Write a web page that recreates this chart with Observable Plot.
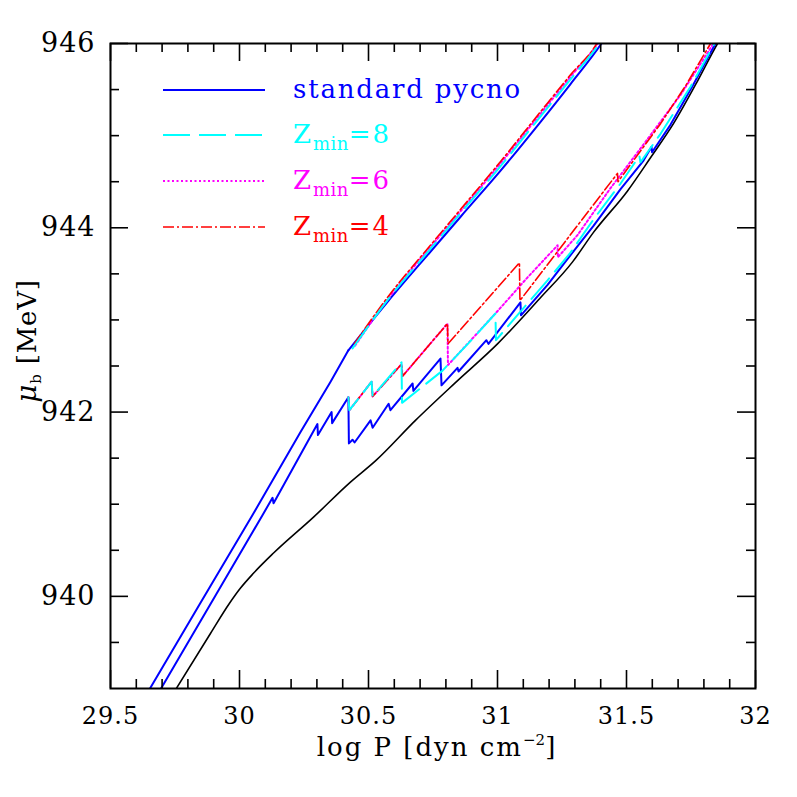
<!DOCTYPE html>
<html><head><meta charset="utf-8">
<script src="https://cdn.jsdelivr.net/npm/d3@7"></script>
<script src="https://cdn.jsdelivr.net/npm/@observablehq/plot@0.6"></script>
<style>body{margin:0;background:#fff}</style>
</head><body><div id="chart"></div>
<script>
// ---- data (log P [dyn cm^-2], mu_b [MeV]) ----
const blackLogP = [29.733,29.888,29.960,30.004,30.054,30.132,30.287,30.430,30.527,30.682,30.837,31.000,31.163,31.291,31.372,31.504,31.593,31.682,31.767,31.853,31.872];
const blackMu   = [938.90,939.60,939.92,940.09,940.25,940.47,940.86,941.24,941.47,941.91,942.32,942.74,943.23,943.63,943.95,944.40,944.76,945.13,945.55,946.00,946.09];

const stdUpperLogP = [29.632,29.849,30.050,30.236,30.353,30.422];
const stdUpperMu   = [938.90,939.93,940.88,941.78,942.33,942.67];
const stdTopLogP   = [30.422,30.578,30.740,30.857,31.012,31.167,31.283,31.403,31.422];
const stdTopMu     = [942.67,943.21,943.74,944.12,944.62,945.15,945.56,946.00,946.08];

const stdLowerLogP = [29.675,29.907,30.089,30.128,30.132,30.302,30.304,30.357,30.359,30.422,30.424,30.438,30.446,30.508,30.516,30.578,30.585,30.671,30.674,30.779,30.783,30.845,30.849,30.957,30.965,31.089,31.091,31.194,31.271,31.372,31.477,31.566,31.597,31.599,31.671,31.756,31.845,31.864];
const stdLowerMu   = [938.90,940.01,940.88,941.07,941.01,941.87,941.75,942.00,941.88,942.16,941.66,941.70,941.67,941.91,941.83,942.09,942.02,942.31,942.23,942.58,942.29,942.48,942.44,942.78,942.74,943.19,943.05,943.38,943.66,944.02,944.42,944.73,944.88,944.82,945.12,945.54,946.00,946.09];

const z8UpperLogP = [30.438,30.578,30.740,30.857,31.012,31.167,31.283,31.395,31.415];
const z8UpperMu   = [942.69,943.23,943.77,944.16,944.67,945.21,945.61,946.00,946.08];
const z8LowerLogP = [30.422,30.426,30.512,30.516,30.628,30.630,30.702,30.787,30.895,30.992,30.994,31.089,31.194,31.283,31.372,31.477,31.550,31.554,31.632,31.748,31.841,31.860];
const z8LowerMu   = [942.16,942.02,942.33,942.17,942.54,942.10,942.26,942.45,942.77,943.07,942.78,943.09,943.43,943.73,944.09,944.48,944.78,944.71,945.02,945.53,946.00,946.09];

const z6UpperLogP = [30.448,30.578,30.740,30.857,31.012,31.167,31.283,31.388,31.408];
const z6UpperMu   = [942.72,943.24,943.79,944.18,944.70,945.24,945.64,946.00,946.09];
const z6LowerLogP = [30.422,30.426,30.512,30.516,30.628,30.632,30.806,30.808,30.992,31.116,31.233,31.234,31.310,31.438,31.554,31.709,31.837,31.857];
const z6LowerMu   = [942.16,942.02,942.33,942.17,942.52,942.39,942.96,942.51,943.07,943.46,943.81,943.68,943.92,944.43,944.86,945.44,946.00,946.09];

const z4UpperLogP = [30.445,30.578,30.740,30.857,31.012,31.167,31.283,31.385,31.405];
const z4UpperMu   = [942.74,943.26,943.81,944.20,944.72,945.26,945.66,946.00,946.10];
const z4LowerLogP = [30.422,30.426,30.512,30.516,30.628,30.632,30.806,30.808,31.085,31.087,31.465,31.467,31.632,31.729,31.826,31.845];
const z4LowerMu   = [942.16,942.02,942.33,942.17,942.52,942.39,942.96,942.74,943.62,943.21,944.59,944.50,945.13,945.54,946.00,946.09];

const xMajorTicks = [29.5,30,30.5,31,31.5,32];
const xMinorTicks = [29.6,29.7,29.8,29.9,30.1,30.2,30.3,30.4,30.6,30.7,30.8,30.9,31.1,31.2,31.3,31.4,31.6,31.7,31.8,31.9];
const yMajorTicks = [940,942,944,946];
const yMinorTicks = [939.5,940.5,941,941.5,942.5,943,943.5,944.5,945,945.5];

const legendLabels = ["standard pycno","Z|min|=8","Z|min|=6","Z|min|=4"];

// ---- styles ----
const styles = {
  black: {stroke:"#000000", strokeWidth:1.6, dash:null},
  std:   {stroke:"#0000ff", strokeWidth:2,   dash:null},
  z8:    {stroke:"#00ffff", strokeWidth:2,   dash:"27,9"},
  z6:    {stroke:"#ff00ff", strokeWidth:2,   dash:"2,2.5"},
  z4:    {stroke:"#ff0000", strokeWidth:1.6, dash:"11,3,2,3"}
};

function rows(xs, ys){ return xs.map((x,i)=>({x, y:ys[i]})); }
const smooth = {
  black: [rows(blackLogP,blackMu)],
  std: [rows(stdTopLogP,stdTopMu)],
  z6: [rows(z6UpperLogP,z6UpperMu)],
  z4: [rows(z4UpperLogP,z4UpperMu)],
  z8: [rows(z8UpperLogP,z8UpperMu)]
};
const jagged = {
  std: [rows(stdUpperLogP,stdUpperMu), rows(stdLowerLogP,stdLowerMu)],
  z6: [rows(z6LowerLogP,z6LowerMu)],
  z4: [rows(z4LowerLogP,z4LowerMu)],
  z8: [rows(z8LowerLogP,z8LowerMu)]
};
const order = ["black","std","z6","z4","z8"];

const W = 797, H = 797, mL = 110, mR = 42, mT = 43, mB = 109;
const innerW = W - mL - mR, innerH = H - mT - mB;
const FONT = "DejaVu Serif";

const lineMarks = [];
for (const k of order) {
  const s = styles[k];
  const o = {x:"x", y:"y", stroke:s.stroke, strokeWidth:s.strokeWidth, strokeDasharray:s.dash || undefined, clip:true};
  for (const seg of (smooth[k] || [])) lineMarks.push(Plot.line(seg, {...o, curve:"monotone-x"}));
  for (const seg of (jagged[k] || [])) lineMarks.push(Plot.line(seg, {...o, curve:"linear"}));
}

const tickMarks = [
  Plot.ruleX(xMajorTicks, {x:d=>d, insetTop: innerH-18, strokeWidth:1.6}),
  Plot.ruleX(xMajorTicks, {x:d=>d, insetBottom: innerH-18, strokeWidth:1.6}),
  Plot.ruleX(xMinorTicks, {x:d=>d, insetTop: innerH-9, strokeWidth:1.6}),
  Plot.ruleX(xMinorTicks, {x:d=>d, insetBottom: innerH-9, strokeWidth:1.6}),
  Plot.ruleY(yMajorTicks, {y:d=>d, insetRight: innerW-18, strokeWidth:1.6}),
  Plot.ruleY(yMajorTicks, {y:d=>d, insetLeft: innerW-18, strokeWidth:1.6}),
  Plot.ruleY(yMinorTicks, {y:d=>d, insetRight: innerW-9, strokeWidth:1.6}),
  Plot.ruleY(yMinorTicks, {y:d=>d, insetLeft: innerW-9, strokeWidth:1.6})
];

const plot = Plot.plot({
  width: W, height: H,
  marginLeft: mL, marginRight: mR, marginTop: mT, marginBottom: mB,
  style: {fontFamily: FONT, background: "#fff"},
  x: {domain:[29.5,32]},
  y: {domain:[939,946]},
  marks: [
    Plot.axisX(xMajorTicks, {tickSize:0, tickPadding:18, fontSize:24, tickFormat:d=>String(d), label:null}),
    Plot.axisY(yMajorTicks, {tickSize:0, tickPadding:15, fontSize:27, tickFormat:d=>String(d), label:null}),
    ...lineMarks,
    ...tickMarks,
    Plot.frame({strokeWidth:2})
  ]
});
document.getElementById("chart").appendChild(plot);

const svg = d3.select(plot);
svg.selectAll("[aria-label='x-axis tick label'] text, [aria-label='y-axis tick label'] text").style("letter-spacing","1px");

// axis titles
const xt = svg.append("text").attr("x", 437).attr("y", 756).attr("text-anchor","middle")
  .attr("font-family", FONT).attr("font-size", 26).attr("letter-spacing", "2px").attr("fill","#000");
xt.append("tspan").text("log P [dyn cm");
xt.append("tspan").attr("dy", -11).attr("font-size", 15).attr("letter-spacing","0px").text("\u22122");
xt.append("tspan").attr("dy", 11).text("]");

const yt = svg.append("text").attr("transform","translate(36,341) rotate(-90)").attr("text-anchor","middle")
  .attr("font-family", FONT).attr("font-size", 26).attr("letter-spacing","0.8px").attr("fill","#000");
yt.append("tspan").attr("font-style","italic").attr("font-size", 28).text("\u03bc");
yt.append("tspan").attr("dy", 5).attr("font-size", 15).text("b");
yt.append("tspan").attr("dy", -5).text(" [MeV]");

// legend
const legendKeys = ["std","z8","z6","z4"];
const legendRowsY = [90,135,181,227];
const lg = svg.append("g").attr("text-anchor","start");
legendKeys.forEach((k,i) => {
  const y = legendRowsY[i], s = styles[k];
  lg.append("line").attr("x1",163).attr("x2",265).attr("y1",y).attr("y2",y)
    .attr("stroke", s.stroke).attr("stroke-width", s.strokeWidth).attr("stroke-dasharray", s.dash);
  const parts = legendLabels[i].split("|");
  const t = lg.append("text").attr("x",293).attr("y",y+8).attr("fill", s.stroke).attr("text-anchor","start")
    .attr("font-family", FONT).attr("font-size", 26).attr("letter-spacing", "1.8px");
  if (parts.length === 1) { t.text(parts[0]); }
  else {
    t.append("tspan").text(parts[0]);
    t.append("tspan").attr("dy", 7).attr("font-size", 18).attr("letter-spacing","0.5px").text(parts[1]);
    t.append("tspan").attr("dy", -7).text(parts[2]);
  }
});
</script>
</body></html>
